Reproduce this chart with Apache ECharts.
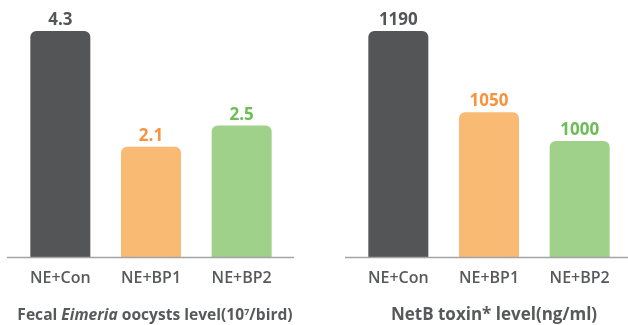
<!DOCTYPE html>
<html>
<head>
<meta charset="utf-8">
<script src="https://cdn.jsdelivr.net/npm/echarts@6/dist/echarts.min.js"></script>
<style>
  html, body { margin: 0; padding: 0; background: #fff; }
  #chart { width: 628px; height: 325px; }
</style>
</head>
<body>
<div id="chart"></div>
<script>
// Treatment groups shared by both panels
const groups = ['NE+Con', 'NE+BP1', 'NE+BP2'];

// Fecal Eimeria oocysts (10^7 / bird)
const oocysts = [4.3, 2.1, 2.5];

// NetB toxin level (ng/ml)
const netbToxin = [1190, 1050, 1000];

// Bar fills and value-label colours, one per group
const barColors = ['#545557', '#f9bb74', '#9fd18a'];
const labelColors = ['#545557', '#f7933d', '#6cbd55'];

const FONT = '"Open Sans", sans-serif';

function barData(values) {
  return values.map((v, i) => ({
    value: v,
    itemStyle: { color: barColors[i], borderRadius: [6, 6, 0, 0] },
    label: { color: labelColors[i] }
  }));
}

function barSeries(values, idx) {
  return {
    type: 'bar',
    xAxisIndex: idx,
    yAxisIndex: idx,
    barWidth: 60,
    data: barData(values),
    label: {
      show: true,
      position: 'top',
      distance: 2,
      fontFamily: FONT,
      fontWeight: 'bold',
      fontSize: 17
    }
  };
}

function catAxis(idx) {
  return {
    type: 'category',
    gridIndex: idx,
    data: groups,
    axisLine: { show: false },
    axisTick: { show: false },
    axisLabel: {
      margin: 13,
      color: '#58595b',
      fontFamily: FONT,
      fontWeight: 600,
      fontSize: 16
    }
  };
}

const chart = echarts.init(document.getElementById('chart'), null, { renderer: 'canvas' });

chart.setOption({
  animation: false,
  backgroundColor: '#fff',
  grid: [
    { left: 15, top: 31, width: 272, height: 226 },
    { left: 353, top: 31, width: 272, height: 226 }
  ],
  xAxis: [catAxis(0), catAxis(1)],
  yAxis: [
    { type: 'value', gridIndex: 0, min: 0, max: 4.3, show: false },
    { type: 'value', gridIndex: 1, min: 800, max: 1190, show: false }
  ],
  title: [
    {
      text: '{b|Fecal }{i|Eimeria}{b| oocysts level(10}{s|7}{b|/bird)}',
      left: 150, top: 303, textAlign: 'center',
      textStyle: {
        rich: {
          b: { fontFamily: FONT, fontWeight: 'bold', fontSize: 15.6, color: '#58595b' },
          i: { fontFamily: FONT, fontWeight: 'bold', fontStyle: 'italic', fontSize: 15.6, color: '#58595b' },
          s: { fontFamily: FONT, fontWeight: 'bold', fontSize: 9, color: '#58595b', verticalAlign: 'top', padding: [0, 0, 6, 0] }
        }
      }
    },
    {
      text: 'NetB toxin* level(ng/ml)',
      left: 489, top: 302, textAlign: 'center',
      textStyle: { fontFamily: FONT, fontWeight: 'bold', fontSize: 17, color: '#58595b' }
    }
  ],
  // Baselines under each panel, running a little past the outer bars
  graphic: [
    { type: 'line', shape: { x1: 7, y1: 257.5, x2: 294, y2: 257.5 }, style: { stroke: '#a3a4a6', lineWidth: 1.5 }, z: 10 },
    { type: 'line', shape: { x1: 345, y1: 257.5, x2: 628, y2: 257.5 }, style: { stroke: '#a3a4a6', lineWidth: 1.5 }, z: 10 }
  ],
  series: [barSeries(oocysts, 0), barSeries(netbToxin, 1)]
});
</script>
</body>
</html>
